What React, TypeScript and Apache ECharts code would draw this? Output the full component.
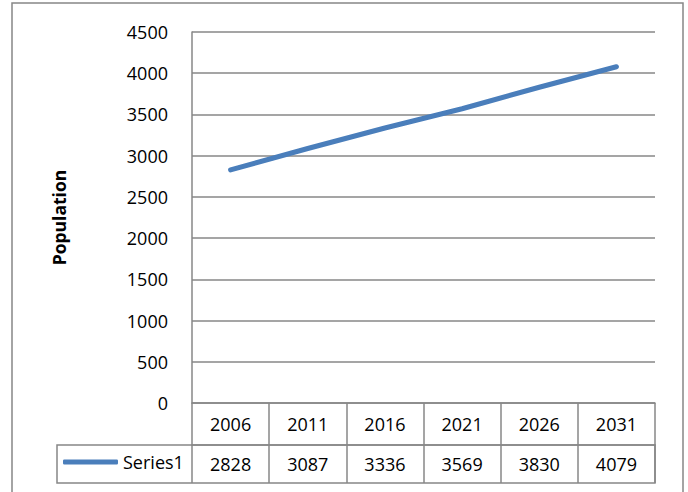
import React, { useEffect, useRef } from "react";
import * as echarts from "echarts";

const years = ["2006", "2011", "2016", "2021", "2026", "2031"];
const population = [2828, 3087, 3336, 3569, 3830, 4079];
const seriesName = "Series1";
const yTicks = { min: 0, max: 4500, interval: 500 };

const GRAY = "#878787";
const BLUE = "#4a7ebb";
const FONT = "'Open Sans', 'Liberation Sans', sans-serif";
const FS = 18;

export default function App() {
  const ref = useRef<HTMLDivElement>(null);

  useEffect(() => {
    if (!ref.current) return;
    const chart = echarts.init(ref.current, null, { renderer: "svg" });
    chart.setOption({
      animation: false,
      backgroundColor: "#ffffff",
      textStyle: { fontFamily: FONT },
      grid: { left: 192, right: 33, top: 32, bottom: 89, containLabel: false },
      legend: {
        data: [seriesName],
        left: 63,
        top: 453,
        padding: 0,
        itemWidth: 55,
        itemHeight: 5,
        icon: "roundRect",
        textStyle: { fontSize: FS, color: "#000", fontFamily: FONT },
        selectedMode: false,
      },
      xAxis: [
        {
          type: "category",
          data: years,
          boundaryGap: true,
          position: "bottom",
          axisLine: { show: true, lineStyle: { color: GRAY, width: 1.5 } },
          axisTick: { show: true, length: 42, lineStyle: { color: GRAY, width: 1.5 } },
          axisLabel: { margin: 12, fontSize: FS, color: "#000", fontFamily: FONT },
          splitLine: { show: false },
        },
        {
          type: "category",
          data: years,
          boundaryGap: true,
          position: "bottom",
          offset: 42,
          axisLine: { show: true, lineStyle: { color: GRAY, width: 1.5 } },
          axisTick: { show: true, length: 38, lineStyle: { color: GRAY, width: 1.5 } },
          axisLabel: {
            margin: 10,
            fontSize: FS,
            color: "#000",
            fontFamily: FONT,
            formatter: (_v: string, i: number) => String(population[i]),
          },
          splitLine: { show: false },
        },
      ],
      yAxis: {
        type: "value",
        min: yTicks.min,
        max: yTicks.max,
        interval: yTicks.interval,
        name: "Population",
        nameLocation: "middle",
        nameGap: 124,
        nameTextStyle: { fontSize: 17.5, fontWeight: "bold", color: "#000", fontFamily: FONT },
        axisLine: { show: true, lineStyle: { color: GRAY, width: 1.5 } },
        axisTick: { show: false },
        axisLabel: {
          margin: 24,
          fontSize: FS,
          color: "#000",
          fontFamily: FONT,
          formatter: (v: number) => String(v),
        },
        splitLine: { show: true, lineStyle: { color: GRAY, width: 1.5 } },
      },
      graphic: [
        {
          type: "rect",
          shape: { x: 12, y: 3, width: 671, height: 500 },
          style: { fill: "none", stroke: GRAY, lineWidth: 1.5 },
          silent: true,
        },
        {
          type: "rect",
          shape: { x: 57, y: 445, width: 598, height: 38 },
          style: { fill: "none", stroke: GRAY, lineWidth: 1.5 },
          silent: true,
        },
      ],
      series: [
        {
          name: seriesName,
          type: "line",
          data: population,
          xAxisIndex: 0,
          showSymbol: false,
          symbol: "none",
          itemStyle: { color: BLUE },
          lineStyle: { color: BLUE, width: 5, cap: "round" },
        },
      ],
    });
    return () => chart.dispose();
  }, []);

  return (
    <div
      ref={ref}
      style={{ position: "fixed", left: 0, top: 0, width: 688, height: 492 }}
    />
  );
}
